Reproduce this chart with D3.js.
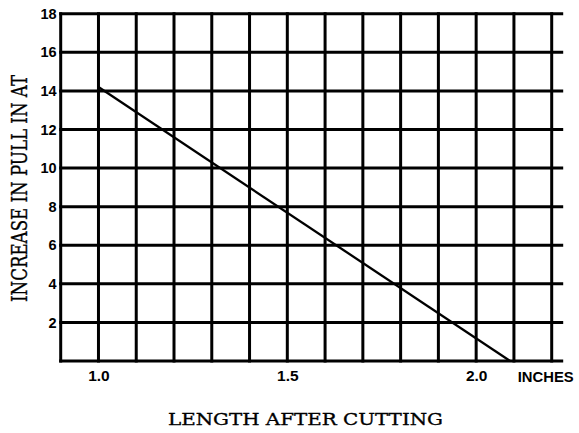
<!DOCTYPE html>
<html>
<head>
<meta charset="utf-8">
<script src="https://cdn.jsdelivr.net/npm/d3@7/dist/d3.min.js"></script>
<style>
  html, body { margin: 0; padding: 0; background: #fff; }
  svg { display: block; }
  .tick-lbl { font-family: "Liberation Sans", Arial, sans-serif; font-weight: bold; fill: #000; }
  .title { font-family: "DejaVu Serif", serif; fill: #000; stroke: #000; stroke-width: 0.35px; }
</style>
</head>
<body>
<svg id="chart" width="579" height="433"></svg>
<script>
// ---- data ----
const lineX = [1.0, 2.09];          // length after cutting (inches)
const lineY = [14.2, 0];            // increase in pull in AT
const gridX = [0.9, 1.0, 1.1, 1.2, 1.3, 1.4, 1.5, 1.6, 1.7, 1.8, 1.9, 2.0, 2.1, 2.2];
const gridY = [0, 2, 4, 6, 8, 10, 12, 14, 16, 18];
const xTickValues = [1.0, 1.5, 2.0];
const xTickLabels = ["1.0", "1.5", "2.0"];
const yTickValues = [2, 4, 6, 8, 10, 12, 14, 16, 18];
const xUnit = "INCHES";
const xTitle = "LENGTH AFTER CUTTING";
const yTitle = "INCREASE IN PULL IN AT";

// ---- layout ----
const svg = d3.select("#chart");
const x = d3.scaleLinear().domain([0.9, 2.2]).range([60.7, 551.7]);
const y = d3.scaleLinear().domain([0, 18]).range([361, 13.7]);
const hExtend = 11.5;

// grid
const g = svg.append("g");
g.selectAll("line.v").data(gridX).enter().append("line")
  .attr("class", "v")
  .attr("x1", d => x(d)).attr("x2", d => x(d))
  .attr("y1", y(18) - 1.5).attr("y2", y(0) + 1.5)
  .attr("stroke", "#000").attr("stroke-width", 3);
g.selectAll("line.h").data(gridY).enter().append("line")
  .attr("class", "h")
  .attr("x1", x(0.9) - 1.5).attr("x2", x(2.2) + hExtend)
  .attr("y1", d => y(d)).attr("y2", d => y(d))
  .attr("stroke", "#000").attr("stroke-width", 3);

// data line
const pts = lineX.map((v, i) => [v, lineY[i]]);
svg.append("path")
  .datum(pts)
  .attr("d", d3.line().x(d => x(d[0])).y(d => y(d[1])))
  .attr("fill", "none").attr("stroke", "#000").attr("stroke-width", 2.3);

// y axis labels
const yAxis = svg.append("g")
  .attr("transform", `translate(${x(0.9)},0)`)
  .call(d3.axisLeft(y).tickValues(yTickValues).tickSize(0).tickPadding(4).tickFormat(d3.format("d")));
yAxis.select(".domain").remove();
yAxis.selectAll("text").attr("class", "tick-lbl").attr("font-size", 14.5);

// x axis labels
const xAxis = svg.append("g")
  .attr("transform", `translate(0,${y(0)})`)
  .call(d3.axisBottom(x).tickValues(xTickValues).tickSize(0).tickPadding(9)
    .tickFormat((d, i) => xTickLabels[i]));
xAxis.select(".domain").remove();
xAxis.selectAll("text").attr("class", "tick-lbl").attr("font-size", 15.5);

svg.append("text")
  .attr("class", "tick-lbl")
  .attr("x", x(2.2) - 6).attr("y", y(0) + 20.5)
  .attr("text-anchor", "middle")
  .attr("font-size", 14.5)
  .attr("textLength", 56).attr("lengthAdjust", "spacingAndGlyphs")
  .text(xUnit);

// titles
svg.append("text")
  .attr("class", "title")
  .attr("x", 168).attr("y", 425)
  .attr("textLength", 275).attr("lengthAdjust", "spacingAndGlyphs")
  .attr("font-size", 17.5)
  .text(xTitle);

svg.append("text")
  .attr("class", "title")
  .attr("transform", "translate(26.5,302) rotate(-90)")
  .attr("x", 0).attr("y", 0)
  .attr("textLength", 227).attr("lengthAdjust", "spacingAndGlyphs")
  .attr("font-size", 22)
  .text(yTitle);
</script>
</body>
</html>
